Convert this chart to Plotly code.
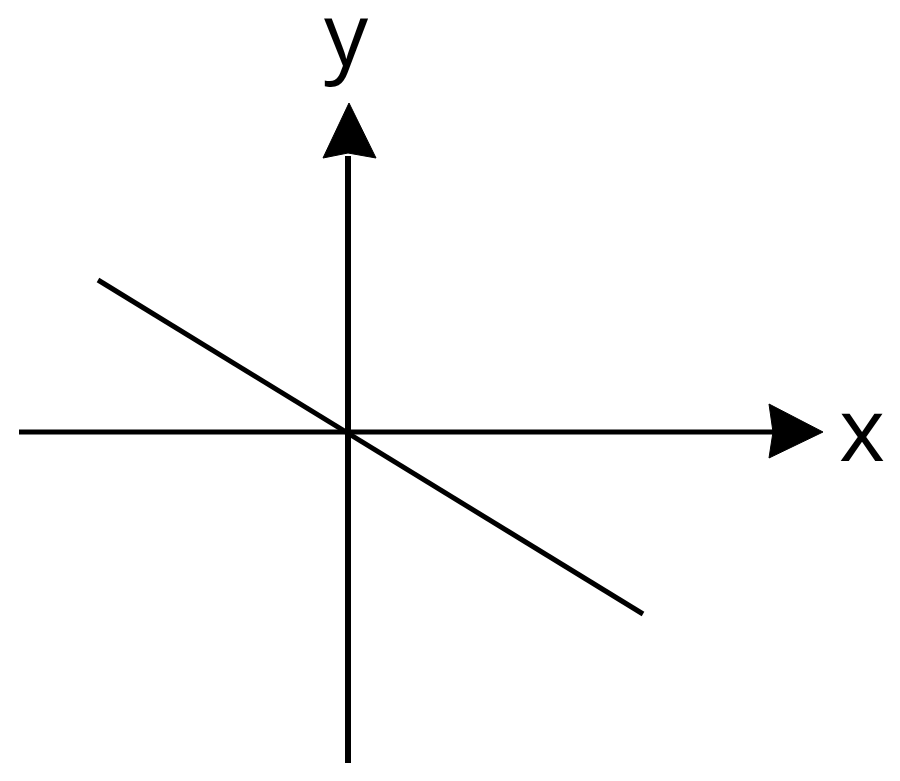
import plotly.graph_objects as go

# Coordinates in a frame whose origin is the axes crossing (1 unit ~ 1 px)
line_x = [-250, 295]
line_y = [152, -182]

xaxis_x = [-329, 425]
xaxis_y = [0, 0]
yaxis_x = [0, 0]
yaxis_y = [-331, 276]

xhead_x = [475, 421, 425, 421, 475]
xhead_y = [0, 28, 0, -26, 0]
yhead_x = [1, -25, 0, 28, 1]
yhead_y = [329, 274, 279, 274, 329]

labels = ["x", "y"]

fig = go.Figure()
black = "#000000"
fig.add_trace(go.Scatter(x=xaxis_x, y=xaxis_y, mode="lines",
                         line=dict(color=black, width=5), hoverinfo="skip"))
fig.add_trace(go.Scatter(x=yaxis_x, y=yaxis_y, mode="lines",
                         line=dict(color=black, width=6), hoverinfo="skip"))
fig.add_trace(go.Scatter(x=line_x, y=line_y, mode="lines",
                         line=dict(color=black, width=5), hoverinfo="skip"))
fig.add_trace(go.Scatter(x=xhead_x, y=xhead_y, mode="lines", fill="toself",
                         fillcolor=black, line=dict(color=black, width=1),
                         hoverinfo="skip"))
fig.add_trace(go.Scatter(x=yhead_x, y=yhead_y, mode="lines", fill="toself",
                         fillcolor=black, line=dict(color=black, width=1),
                         hoverinfo="skip"))

fig.add_annotation(x=514, y=5, text=labels[0], showarrow=False,
                   xanchor="center", yanchor="middle",
                   font=dict(family="Open Sans", size=88, color=black))
fig.add_annotation(x=-2, y=400, text=labels[1], showarrow=False,
                   xanchor="center", yanchor="middle",
                   font=dict(family="Open Sans", size=88, color=black))

fig.update_layout(
    width=900, height=781,
    margin=dict(l=0, r=0, t=0, b=0),
    paper_bgcolor="white", plot_bgcolor="white",
    showlegend=False,
    xaxis=dict(range=[-340, 560], visible=False, fixedrange=True),
    yaxis=dict(range=[-357, 424], visible=False, fixedrange=True),
)

fig.write_html("out.html")
